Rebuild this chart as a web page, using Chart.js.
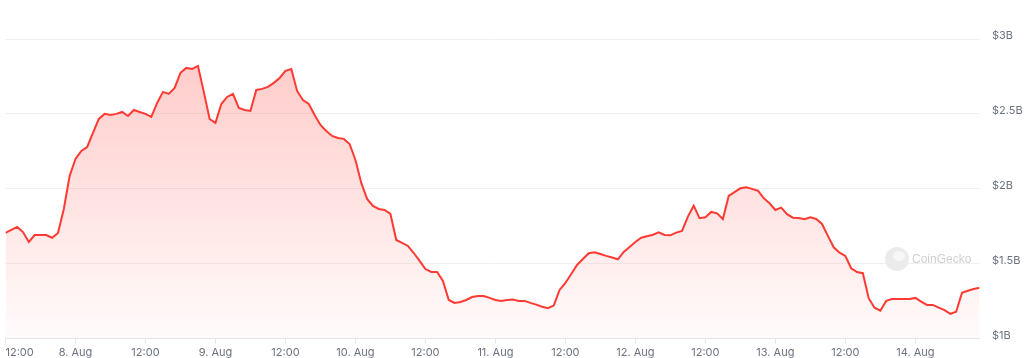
<!DOCTYPE html>
<html>
<head>
<meta charset="utf-8">
<style>
  html, body { margin: 0; padding: 0; background: #fff; }
</style>
<script src="https://cdn.jsdelivr.net/npm/chart.js@4/dist/chart.umd.min.js"></script>
</head>
<body>
<canvas id="volumeChart" width="1024" height="358"></canvas>
<script>
// hourly volume in billions USD, first point is 7 Aug 12:00
var startHour = 12; // hours since 7 Aug 00:00
var volume = [
    1.705, 1.725, 1.745, 1.711, 1.645, 1.691, 1.691, 1.691, 1.673, 1.705,
    1.865, 2.086, 2.199, 2.253, 2.279, 2.373, 2.466, 2.500, 2.493, 2.500,
    2.513, 2.486, 2.526, 2.513, 2.500, 2.480, 2.573, 2.647, 2.633, 2.673,
    2.774, 2.807, 2.800, 2.820, 2.647, 2.466, 2.440, 2.566, 2.613, 2.633,
    2.540, 2.526, 2.520, 2.660, 2.667, 2.680, 2.707, 2.740, 2.787, 2.800,
    2.653, 2.593, 2.566, 2.493, 2.426, 2.386, 2.353, 2.339, 2.333, 2.299,
    2.192, 2.039, 1.932, 1.885, 1.865, 1.858, 1.832, 1.658, 1.638, 1.618,
    1.571, 1.518, 1.464, 1.444, 1.444, 1.384, 1.257, 1.237, 1.244, 1.257,
    1.277, 1.284, 1.284, 1.271, 1.257, 1.251, 1.257, 1.261, 1.251, 1.251,
    1.238, 1.226, 1.212, 1.202, 1.220, 1.324, 1.371, 1.431, 1.491, 1.531,
    1.569, 1.576, 1.564, 1.552, 1.541, 1.529, 1.578, 1.611, 1.645, 1.673,
    1.683, 1.693, 1.709, 1.691, 1.689, 1.707, 1.718, 1.814, 1.887, 1.803,
    1.810, 1.845, 1.836, 1.798, 1.952, 1.977, 2.003, 2.010, 1.999, 1.987,
    1.937, 1.903, 1.858, 1.874, 1.830, 1.807, 1.805, 1.796, 1.810, 1.798,
    1.765, 1.685, 1.609, 1.573, 1.551, 1.469, 1.444, 1.436, 1.269, 1.206,
    1.186, 1.251, 1.264, 1.264, 1.264, 1.264, 1.271, 1.246, 1.224, 1.224,
    1.206, 1.190, 1.164, 1.179, 1.306, 1.319, 1.331, 1.339
];
var tickHours = [12, 24, 36, 48, 60, 72, 84, 96, 108, 120, 132, 144, 156, 168, 179];
var tickLabels = ['12:00', '8. Aug', '12:00', '9. Aug', '12:00', '10. Aug', '12:00', '11. Aug',
    '12:00', '12. Aug', '12:00', '13. Aug', '12:00', '14. Aug', ''];
var yTicks = [1, 1.5, 2, 2.5, 3];

var points = [];
for (var i = 0; i < volume.length; i++) {
    points.push({ x: startHour + i, y: volume[i] });
}

Chart.defaults.font.family = 'Inter, "Liberation Sans", sans-serif';
Chart.defaults.font.size = 11;
Chart.defaults.color = '#6b7280';

// faint CoinGecko mark in the lower right
var watermark = {
    id: 'watermark',
    beforeDatasetsDraw: function (chart) {
        var c = chart.ctx;
        c.save();
        c.fillStyle = '#ebebeb';
        c.beginPath();
        c.arc(897, 259, 12, 0, Math.PI * 2);
        c.fill();
        c.fillStyle = '#f7f7f7';
        c.beginPath();
        c.ellipse(899, 256, 6, 5, 0, 0, Math.PI * 2);
        c.fill();
        c.fillStyle = '#d0d0d0';
        c.font = '12px "Liberation Sans", Arial, sans-serif';
        c.textBaseline = 'middle';
        c.fillText('CoinGecko', 912, 260);
        c.restore();
    }
};

var ctx = document.getElementById('volumeChart').getContext('2d');
var volumeChart = new Chart(ctx, {
    type: 'line',
    data: {
        datasets: [
            {
                data: points,
                borderColor: '#ff3a33',
                borderWidth: 2,
                pointRadius: 0,
                tension: 0,
                fill: 'start',
                backgroundColor: function (context) {
                    var area = context.chart.chartArea;
                    if (!area) return 'rgba(255, 58, 51, 0.15)';
                    var g = context.chart.ctx.createLinearGradient(0, area.top, 0, area.bottom);
                    g.addColorStop(0, 'rgba(255, 58, 51, 0.28)');
                    g.addColorStop(1, 'rgba(255, 58, 51, 0.02)');
                    return g;
                }
            }
        ]
    },
    options: {
        responsive: false,
        animation: false,
        layout: {
            autoPadding: false,
            padding: { left: 5.5, top: 39, right: 0, bottom: 0 }
        },
        plugins: {
            legend: { display: false },
            tooltip: { enabled: false }
        },
        scales: {
            x: {
                type: 'linear',
                min: startHour,
                max: startHour + volume.length - 1,
                afterBuildTicks: function (scale) {
                    scale.ticks = tickHours.map(function (h) { return { value: h }; });
                },
                afterFit: function (scale) { scale.height = 19.5; },
                ticks: {
                    autoSkip: false,
                    maxRotation: 0,
                    align: 'inner',
                    padding: 3,
                    callback: function (value, index) { return tickLabels[index]; }
                },
                grid: {
                    drawOnChartArea: false,
                    drawTicks: true,
                    tickLength: 5,
                    tickColor: function (c) {
                        return c.index === tickHours.length - 1 ? 'rgba(0,0,0,0)' : '#e6e6e6';
                    }
                },
                border: { display: true, color: '#e6e6e6' }
            },
            y: {
                position: 'right',
                min: 1,
                max: 3,
                afterBuildTicks: function (scale) {
                    scale.ticks = yTicks.map(function (v) { return { value: v }; });
                },
                afterFit: function (scale) { scale.width = 44.5; },
                ticks: {
                    padding: 12.5,
                    labelOffset: -3,
                    callback: function (value) { return '$' + value + 'B'; }
                },
                grid: { color: '#f0f0f0', drawTicks: false },
                border: { display: false }
            }
        }
    },
    plugins: [watermark]
});
</script>
</body>
</html>
